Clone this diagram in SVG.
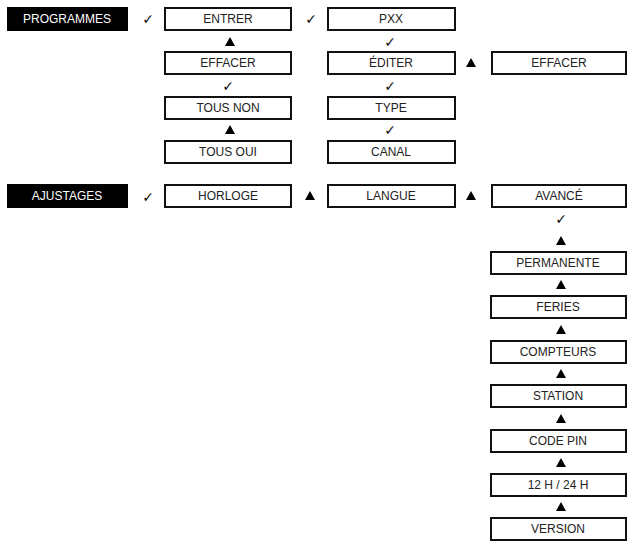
<svg xmlns="http://www.w3.org/2000/svg" width="631" height="543" viewBox="0 0 631 543">
<style>
.b{fill:#fff;stroke:#111;stroke-width:2}
.k{fill:#000}
text{font-family:"Liberation Sans",Arial,sans-serif;font-size:12px;text-anchor:middle;fill:#222}
.w{fill:#fff}
.c{font-family:"DejaVu Sans",sans-serif;font-size:14px;fill:#111}
</style>
<defs>
<path id="t" d="M-5,4 L0,-5 L5,4Z" fill="#000"/>
</defs>
<rect width="631" height="543" fill="#fff"/>
<g id="programmes"><rect class="k" x="7" y="7" width="121" height="24"/><text class="w" x="67" y="23">PROGRAMMES</text></g>
<g id="entrer"><rect class="b" x="165" y="8" width="126" height="22"/><text x="228" y="23">ENTRER</text></g>
<g id="pxx"><rect class="b" x="328" y="8" width="127" height="22"/><text x="391" y="23">PXX</text></g>
<g id="effacer1"><rect class="b" x="165" y="52" width="126" height="22"/><text x="228" y="67">EFFACER</text></g>
<g id="editer"><rect class="b" x="328" y="52" width="127" height="22"/><text x="391" y="67">ÉDITER</text></g>
<g id="effacer2"><rect class="b" x="492" y="52" width="134" height="22"/><text x="559" y="67">EFFACER</text></g>
<g id="tousnon"><rect class="b" x="165" y="97" width="126" height="22"/><text x="228" y="112">TOUS NON</text></g>
<g id="type"><rect class="b" x="328" y="97" width="127" height="22"/><text x="391" y="112">TYPE</text></g>
<g id="tousoui"><rect class="b" x="165" y="141" width="126" height="22"/><text x="228" y="156">TOUS OUI</text></g>
<g id="canal"><rect class="b" x="328" y="141" width="127" height="22"/><text x="391" y="156">CANAL</text></g>
<g id="ajustages"><rect class="k" x="7" y="184" width="121" height="24"/><text class="w" x="67" y="200">AJUSTAGES</text></g>
<g id="horloge"><rect class="b" x="165" y="185" width="126" height="22"/><text x="228" y="200">HORLOGE</text></g>
<g id="langue"><rect class="b" x="328" y="185" width="127" height="22"/><text x="391" y="200">LANGUE</text></g>
<g id="avance"><rect class="b" x="492" y="185" width="134" height="22"/><text x="559" y="200">AVANCÉ</text></g>
<g id="permanente"><rect class="b" x="491" y="252" width="135" height="22"/><text x="558" y="267">PERMANENTE</text></g>
<g id="feries"><rect class="b" x="491" y="296" width="135" height="22"/><text x="558" y="311">FERIES</text></g>
<g id="compteurs"><rect class="b" x="491" y="341" width="135" height="22"/><text x="558" y="356">COMPTEURS</text></g>
<g id="station"><rect class="b" x="491" y="385" width="135" height="22"/><text x="558" y="400">STATION</text></g>
<g id="codepin"><rect class="b" x="491" y="430" width="135" height="22"/><text x="558" y="445">CODE PIN</text></g>
<g id="h1224"><rect class="b" x="491" y="474" width="135" height="22"/><text x="558" y="489">12 H / 24 H</text></g>
<g id="version"><rect class="b" x="491" y="518" width="135" height="22"/><text x="558" y="533">VERSION</text></g>
<g id="connectors">
<text class="c" x="148" y="24">✓</text>
<text class="c" x="311" y="24">✓</text>
<text class="c" x="390" y="47">✓</text>
<text class="c" x="228" y="91">✓</text>
<text class="c" x="390" y="91">✓</text>
<text class="c" x="390" y="135">✓</text>
<text class="c" x="148" y="202">✓</text>
<text class="c" x="561" y="224">✓</text>
<use href="#t" x="230" y="42"/>
<use href="#t" x="230" y="130"/>
<use href="#t" x="471" y="63"/>
<use href="#t" x="310" y="196"/>
<use href="#t" x="471" y="196"/>
<use href="#t" x="561" y="241"/>
<use href="#t" x="561" y="285"/>
<use href="#t" x="561" y="330"/>
<use href="#t" x="561" y="374"/>
<use href="#t" x="561" y="419"/>
<use href="#t" x="561" y="463"/>
<use href="#t" x="561" y="507"/>
</g>
</svg>
